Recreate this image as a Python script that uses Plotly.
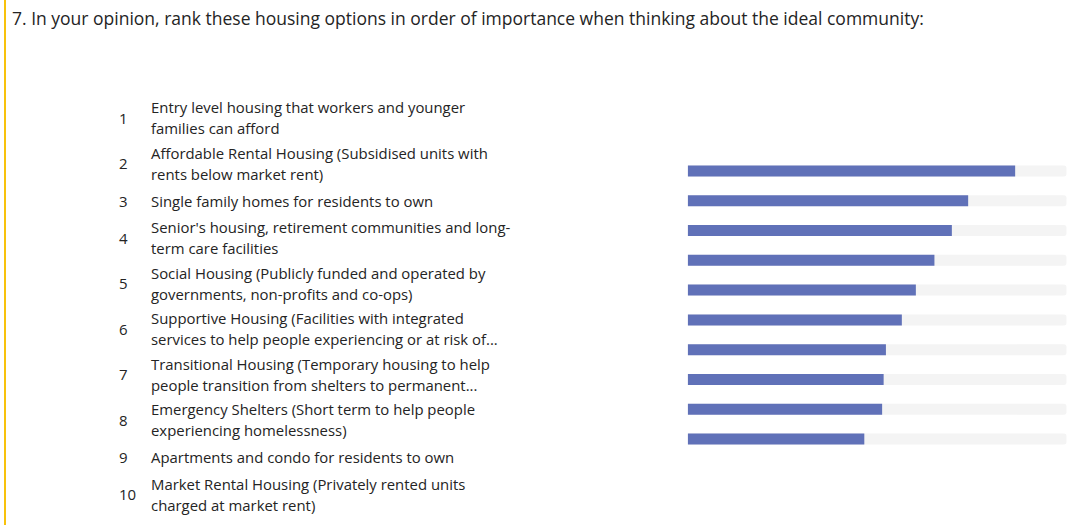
import plotly.graph_objects as go

W, H = 1083, 525

title = ("7. In your opinion, rank these housing options in order of importance "
         "when thinking about the ideal community:")

ranks = [1, 2, 3, 4, 5, 6, 7, 8, 9, 10]
options = [
    ["Entry level housing that workers and younger", "families can afford"],
    ["Affordable Rental Housing (Subsidised units with", "rents below market rent)"],
    ["Single family homes for residents to own"],
    ["Senior's housing, retirement communities and long-", "term care facilities"],
    ["Social Housing (Publicly funded and operated by", "governments, non-profits and co-ops)"],
    ["Supportive Housing (Facilities with integrated", "services to help people experiencing or at risk of..."],
    ["Transitional Housing (Temporary housing to help", "people transition from shelters to permanent..."],
    ["Emergency Shelters (Short term to help people", "experiencing homelessness)"],
    ["Apartments and condo for residents to own"],
    ["Market Rental Housing (Privately rented units", "charged at market rent)"],
]
# ranking score per position (scale maximum 10)
scores = [8.64, 7.40, 6.97, 6.51, 6.02, 5.65, 5.23, 5.17, 5.13, 4.66]
score_max = 10

FONT = "Open Sans"
TEXT = "#242424"
BAR = "#6071b8"
TRACK = "#f4f4f4"
ACCENT = "#f8c20c"

fig = go.Figure()
fig.add_trace(go.Bar(
    y=ranks, x=[score_max] * len(ranks), orientation="h",
    marker=dict(color=TRACK, cornerradius=3, line_width=0),
    width=0.37, hoverinfo="skip", showlegend=False,
))
fig.add_trace(go.Bar(
    y=ranks, x=scores, orientation="h",
    marker=dict(color=BAR, cornerradius=3, line_width=0),
    width=0.37, showlegend=False,
))

def px_x(p):
    return p / W

def px_y(p):
    return 1 - p / H

annotations = [dict(
    text=title, xref="paper", yref="paper", x=px_x(10), y=px_y(18),
    xanchor="left", yanchor="middle", showarrow=False,
    font=dict(family=FONT, size=17.5, color=TEXT),
)]

# list of options on the left, rows sized by their line count
top = 95.0
LINE = 21.0
for rank, lines in zip(ranks, options):
    h = 45.5 if len(lines) == 2 else 29.0
    cy = top + h / 2
    annotations.append(dict(
        text=str(rank), xref="paper", yref="paper", x=px_x(117), y=px_y(cy),
        xanchor="left", yanchor="middle", showarrow=False,
        font=dict(family=FONT, size=15, color=TEXT),
    ))
    n = len(lines)
    for k, line in enumerate(lines):
        ly = cy + (k - (n - 1) / 2) * LINE
        annotations.append(dict(
            text=line, xref="paper", yref="paper", x=px_x(149), y=px_y(ly),
            xanchor="left", yanchor="middle", showarrow=False,
            font=dict(family=FONT, size=14.9, color=TEXT),
        ))
    top += h

fig.update_layout(
    width=W, height=H,
    margin=dict(l=0, r=0, t=0, b=0),
    paper_bgcolor="white", plot_bgcolor="white",
    barmode="overlay",
    xaxis=dict(domain=[px_x(687.7), px_x(1066.7)], range=[0, score_max],
               visible=False, fixedrange=True),
    yaxis=dict(domain=[px_y(453.9), px_y(156.1)], range=[10.5, 0.5],
               visible=False, fixedrange=True),
    annotations=annotations,
    shapes=[dict(type="line", xref="paper", yref="paper",
                 x0=px_x(5), x1=px_x(5), y0=0, y1=1,
                 line=dict(color=ACCENT, width=2))],
)

fig.write_html("out.html", config={"displayModeBar": False})
